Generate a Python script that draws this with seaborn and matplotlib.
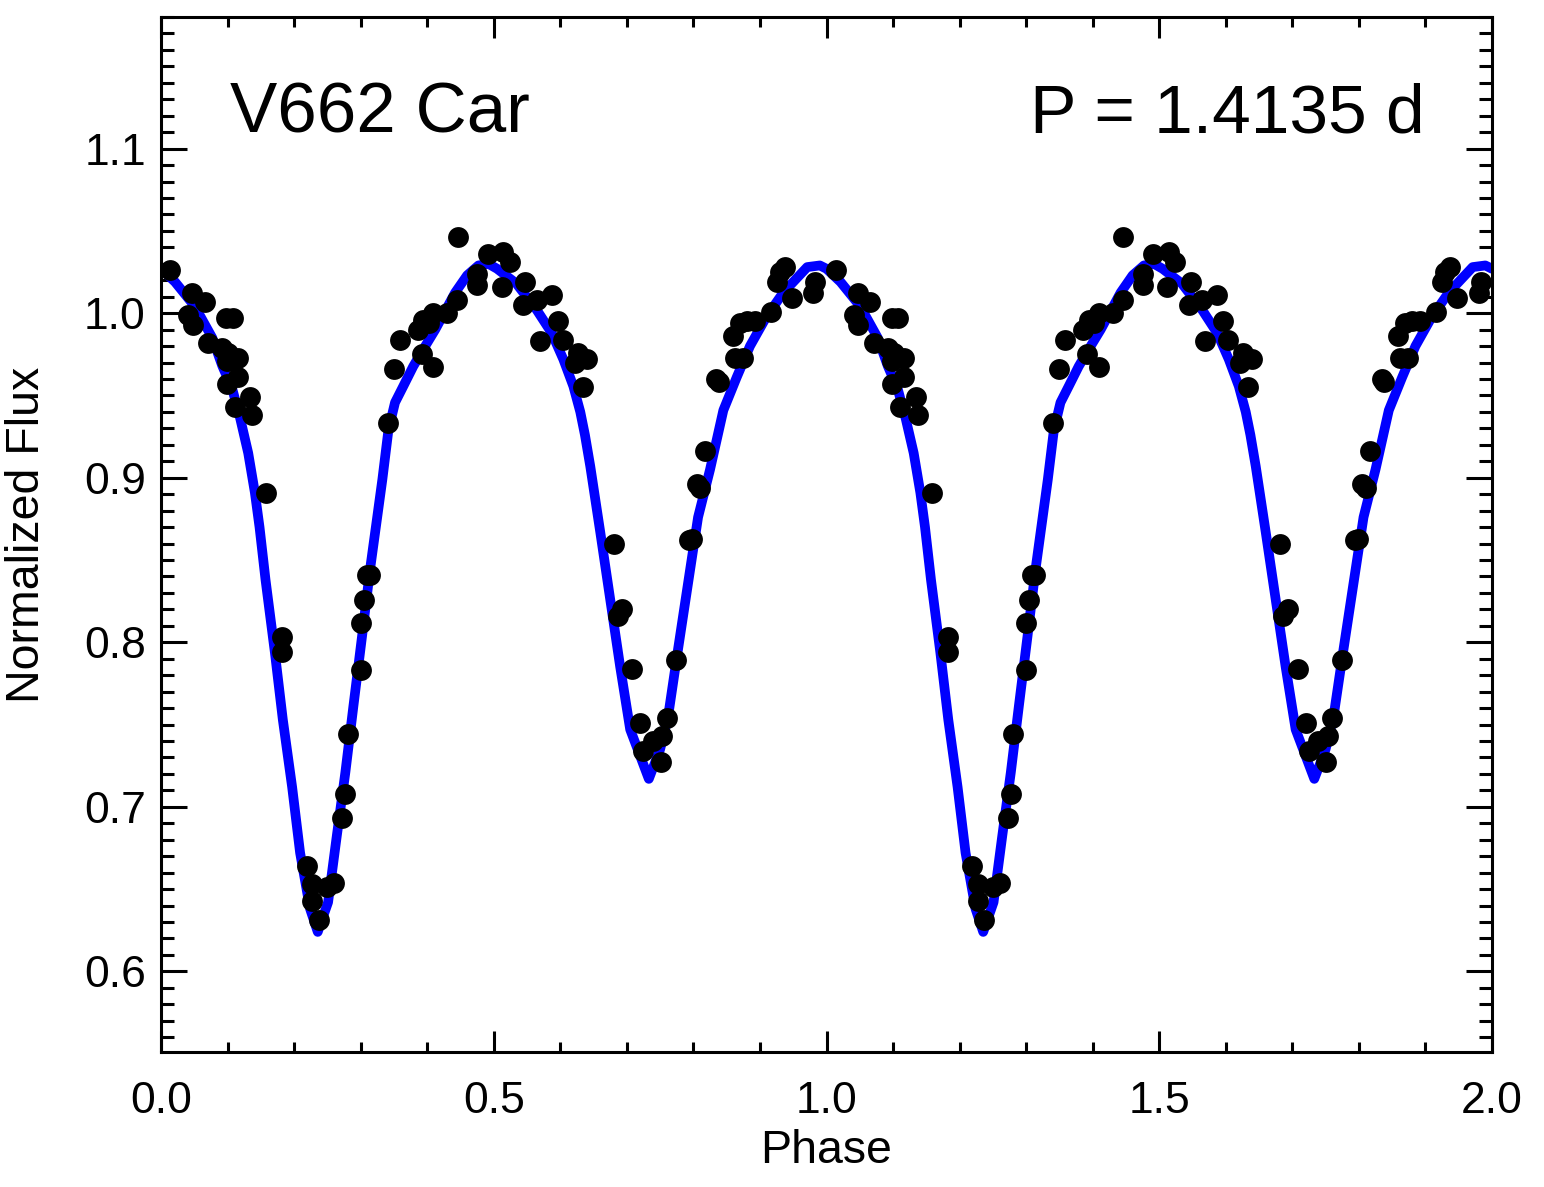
import numpy as np
import pandas as pd
import matplotlib
matplotlib.use("Agg")
import matplotlib.pyplot as plt
import seaborn as sns
from matplotlib.ticker import MultipleLocator

# observed points over one cycle (they are shown twice: phase 0-1 and 1-2)
obs_phase = [
    0.014, 0.047, 0.066, 0.098, 0.108, 0.041, 0.048, 0.071, 0.092, 0.101,
    0.116, 0.099, 0.116, 0.099, 0.111, 0.134, 0.137, 0.158,
    0.182, 0.182, 0.219, 0.227, 0.227, 0.237, 0.250, 0.260, 0.272, 0.2765,
    0.281, 0.3005, 0.3005, 0.305, 0.3095, 0.314,
    0.341, 0.350, 0.359, 0.392, 0.409, 0.386, 0.394, 0.402, 0.409, 0.430,
    0.445, 0.446, 0.475, 0.475, 0.491, 0.514, 0.524, 0.512, 0.547, 0.544,
    0.565, 0.5875, 0.5965, 0.5695, 0.604, 0.6265, 0.640, 0.622, 0.634,
    0.681, 0.693, 0.686, 0.708, 0.720, 0.7245, 0.739, 0.751, 0.760, 0.753,
    0.774, 0.798, 0.794, 0.810, 0.805, 0.817,
    0.838, 0.834, 0.8625, 0.874, 0.8595, 0.870, 0.8925, 0.880, 0.9166,
    0.9256, 0.9376, 0.930, 0.948, 0.983, 0.980,
]
obs_flux = [
    1.026, 1.0125, 1.007, 0.997, 0.997, 0.999, 0.993, 0.982, 0.979, 0.976,
    0.973, 0.971, 0.961, 0.957, 0.943, 0.949, 0.938, 0.891,
    0.8035, 0.794, 0.664, 0.653, 0.6425, 0.631, 0.651, 0.654, 0.693, 0.708,
    0.744, 0.783, 0.812, 0.826, 0.841, 0.841,
    0.933, 0.966, 0.984, 0.975, 0.967, 0.990, 0.996, 0.994, 1.000, 1.000,
    1.008, 1.046, 1.024, 1.017, 1.036, 1.037, 1.031, 1.016, 1.019, 1.005,
    1.008, 1.011, 0.995, 0.983, 0.984, 0.976, 0.972, 0.970, 0.955,
    0.860, 0.820, 0.816, 0.784, 0.751, 0.734, 0.740, 0.727, 0.754, 0.743,
    0.789, 0.863, 0.862, 0.894, 0.896, 0.916,
    0.958, 0.960, 0.973, 0.973, 0.986, 0.994, 0.995, 0.995, 1.001,
    1.019, 1.028, 1.025, 1.0095, 1.019, 1.0125,
]

# model light curve, one cycle
model_phase = [
    0.000, 0.021, 0.051, 0.077, 0.092, 0.107, 0.119, 0.131, 0.141, 0.148,
    0.157, 0.171, 0.183, 0.197, 0.209, 0.224, 0.2355, 0.251, 0.264, 0.277,
    0.289, 0.302, 0.314, 0.3245, 0.3326, 0.3417, 0.3516, 0.364, 0.379, 0.394,
    0.412, 0.442, 0.460, 0.477, 0.492, 0.505, 0.534, 0.5645, 0.587, 0.6045,
    0.6196, 0.630, 0.637, 0.645, 0.660, 0.675, 0.690, 0.705, 0.733, 0.750,
    0.762, 0.777, 0.792, 0.807, 0.825, 0.845, 0.865, 0.885, 0.910, 0.935,
    0.971, 0.990, 1.000,
]
model_flux = [
    1.027, 1.019, 1.004, 0.985, 0.968, 0.954, 0.936, 0.915, 0.891, 0.870,
    0.838, 0.794, 0.753, 0.712, 0.672, 0.638, 0.624, 0.642, 0.682, 0.721,
    0.761, 0.8035, 0.844, 0.875, 0.899, 0.929, 0.9457, 0.9556, 0.9677, 0.978,
    0.990, 1.0125, 1.023, 1.029, 1.030, 1.027, 1.018, 1.002, 0.988, 0.972,
    0.9556, 0.940, 0.926, 0.907, 0.867, 0.826, 0.785, 0.747, 0.717, 0.735,
    0.755, 0.796, 0.836, 0.876, 0.905, 0.941, 0.961, 0.980, 0.998, 1.0125,
    1.028, 1.029, 1.027,
]

x_ticks = [0.0, 0.5, 1.0, 1.5, 2.0]
x_tick_labels = ["0.0", "0.5", "1.0", "1.5", "2.0"]
y_ticks = [0.6, 0.7, 0.8, 0.9, 1.0, 1.1]
y_tick_labels = ["0.6", "0.7", "0.8", "0.9", "1.0", "1.1"]
star_name = "V662 Car"
period_text = "P = 1.4135 d"

sns.set_style("ticks")
plt.rcParams["font.family"] = ["Liberation Sans", "DejaVu Sans"]
plt.rcParams["text.color"] = "black"
plt.rcParams["axes.labelcolor"] = "black"
plt.rcParams["xtick.color"] = "black"
plt.rcParams["ytick.color"] = "black"

# fold: show two cycles
obs = pd.DataFrame({
    "phase": np.concatenate([obs_phase, np.array(obs_phase) + 1]),
    "flux": np.concatenate([obs_flux, obs_flux]),
})
model = pd.DataFrame({
    "phase": np.concatenate([model_phase, np.array(model_phase[1:]) + 1]),
    "flux": np.concatenate([model_flux, model_flux[1:]]),
})

fig = plt.figure(figsize=(15.44, 11.87), dpi=100)
ax = fig.add_axes([0.1043, 0.1137, 0.862, 0.872])

sns.lineplot(data=model, x="phase", y="flux", sort=False, estimator=None,
             color="blue", linewidth=7, solid_joinstyle="round", ax=ax, zorder=2)
sns.scatterplot(data=obs, x="phase", y="flux", color="black", s=225,
                linewidth=0, ax=ax, zorder=3)

ax.set_xlim(0, 2)
ax.set_ylim(0.551, 1.180)
ax.set_xticks(x_ticks)
ax.set_xticklabels(x_tick_labels)
ax.set_yticks(y_ticks)
ax.set_yticklabels(y_tick_labels)
ax.xaxis.set_minor_locator(MultipleLocator(0.1))
ax.yaxis.set_minor_locator(MultipleLocator(0.01))
ax.tick_params(which="both", direction="in", top=True, right=True,
               width=2.2, color="black")
ax.tick_params(axis="x", which="major", length=15, labelsize=32, pad=21)
ax.tick_params(axis="x", which="minor", length=7.5)
ax.tick_params(axis="y", which="major", length=19, labelsize=32, pad=11)
ax.tick_params(axis="y", which="minor", length=9.5)
for s in ax.spines.values():
    s.set_linewidth(2.2)
    s.set_color("black")

ax.set_xlabel("Phase", fontsize=33.5, labelpad=5)
ax.set_ylabel("Normalized Flux", fontsize=33.5, labelpad=25)

ax.text(0.104, 1.1097, star_name, fontsize=51, ha="left", va="baseline")
ax.text(1.899, 1.1097, period_text, fontsize=50, ha="right", va="baseline")

fig.savefig("out.png", dpi=100)
plt.close(fig)
